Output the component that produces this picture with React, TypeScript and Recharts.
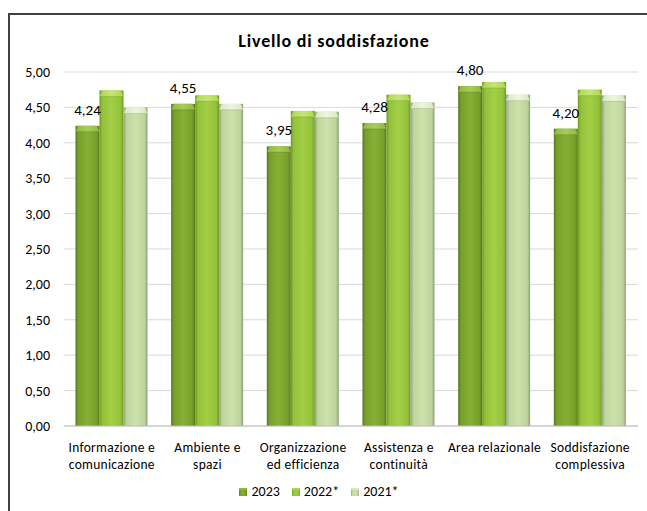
import React from 'react';
import { BarChart, Bar, XAxis, YAxis, CartesianGrid, Legend, LabelList } from 'recharts';

// Categorie (righe dell'etichetta sull'asse X)
const categoryLines: string[][] = [
  ['Informazione e', 'comunicazione'],
  ['Ambiente e', 'spazi'],
  ['Organizzazione', 'ed efficienza'],
  ['Assistenza e', 'continuità'],
  ['Area relazionale'],
  ['Soddisfazione', 'complessiva'],
];
const categories = categoryLines.map((l) => l.join(' '));

const values2023 = [4.24, 4.55, 3.95, 4.28, 4.8, 4.2];
const values2022 = [4.74, 4.67, 4.45, 4.68, 4.86, 4.75];
const values2021 = [4.5, 4.55, 4.44, 4.57, 4.68, 4.67];

const yTicks = [0, 0.5, 1, 1.5, 2, 2.5, 3, 3.5, 4, 4.5, 5];

const seriesNames = ['2023', '2022*', '2021*'];

const data = categories.map((name, i) => ({
  name,
  '2023': values2023[i],
  '2022*': values2022[i],
  '2021*': values2021[i],
}));

const FONT = 'Carlito, Lato, sans-serif';

const palette: Record<string, { edge: string; body: string; light: string; cap: string; capLight: string }> = {
  '2023': { edge: '#58771c', body: '#779f2c', light: '#86b034', cap: '#8fb840', capLight: '#a8cc5a' },
  '2022*': { edge: '#6f9a22', body: '#93c13a', light: '#a2cf45', cap: '#acd652', capLight: '#c6e478' },
  '2021*': { edge: '#8e9e7c', body: '#bdd599', light: '#cde1ad', cap: '#d8e8bf', capLight: '#eef5e2' },
};

const gid = (k: string) => 'g' + k.replace('*', 's');

const fmt = (v: number) => v.toFixed(2).replace('.', ',');

// Barra con effetto smussato: corpo sfumato e tappo superiore più chiaro
const BevelBar = (props: any) => {
  const { x, y, width, height, dataKey } = props;
  if (!height || height <= 0) return null;
  const id = gid(String(dataKey));
  const cap = Math.min(6, height);
  const inset = 3;
  return (
    <g>
      <rect x={x} y={y} width={width} height={height} fill={`url(#${id}-body)`} />
      <polygon
        points={`${x},${y + cap} ${x + inset},${y} ${x + width - inset},${y} ${x + width},${y + cap}`}
        fill={`url(#${id}-cap)`}
      />
      <line x1={x} y1={y + cap} x2={x + width} y2={y + cap} stroke={palette[dataKey].edge} strokeOpacity={0.35} />
    </g>
  );
};

const CategoryTick = (props: any) => {
  const { x, y, index } = props;
  const lines = categoryLines[index] ?? [];
  return (
    <text x={x} y={y} textAnchor="middle" fontFamily={FONT} fontSize={13.5} letterSpacing={0.3} fill="#000">
      {lines.map((l, i) => (
        <tspan key={i} x={x} dy={i === 0 ? 18 : 17}>
          {l}
        </tspan>
      ))}
    </text>
  );
};

const LegendContent = () => (
  <div style={{ display: 'flex', justifyContent: 'center', gap: 12, fontFamily: FONT, fontSize: 14, color: '#000' }}>
    {seriesNames.map((s) => (
      <span key={s} style={{ display: 'flex', alignItems: 'center', gap: 4 }}>
        <svg width={8} height={8}>
          <rect width={8} height={8} fill={`url(#${gid(s)}-body)`} />
          <rect width={8} height={2} fill={palette[s].cap} />
        </svg>
        {s}
      </span>
    ))}
  </div>
);

export default function App() {
  return (
    <div style={{ position: 'fixed', left: 0, top: 0, width: 647, height: 511, background: '#fff' }}>
      <div
        style={{
          position: 'absolute',
          left: 8,
          top: 13,
          width: 639,
          height: 498,
          borderTop: '2px solid #404040',
          borderLeft: '2px solid #404040',
          boxSizing: 'border-box',
        }}
      />
      <div
        style={{
          position: 'absolute',
          left: 0,
          width: 668,
          top: 30,
          textAlign: 'center',
          fontFamily: FONT,
          fontWeight: 700,
          fontSize: 18,
          letterSpacing: 0.8,
          lineHeight: '22px',
          color: '#000',
        }}
      >
        Livello di soddisfazione
      </div>
      <BarChart
        width={647}
        height={511}
        data={data}
        margin={{ top: 72, right: 9, left: 0, bottom: 8 }}
        barCategoryGap="12%"
        barGap={0}
        style={{ position: 'absolute', left: 0, top: 0 }}
      >
        <defs>
          {seriesNames.map((s) => {
            const c = palette[s];
            return (
              <React.Fragment key={s}>
                <linearGradient id={`${gid(s)}-body`} x1="0" y1="0" x2="1" y2="0">
                  <stop offset="0%" stopColor={c.edge} />
                  <stop offset="12%" stopColor={c.body} />
                  <stop offset="50%" stopColor={c.light} />
                  <stop offset="88%" stopColor={c.body} />
                  <stop offset="100%" stopColor={c.edge} />
                </linearGradient>
                <linearGradient id={`${gid(s)}-cap`} x1="0" y1="0" x2="1" y2="0">
                  <stop offset="0%" stopColor={c.cap} />
                  <stop offset="50%" stopColor={c.capLight} />
                  <stop offset="100%" stopColor={c.cap} />
                </linearGradient>
              </React.Fragment>
            );
          })}
        </defs>
        <CartesianGrid vertical={false} stroke="#d9d9d9" />
        <XAxis
          dataKey="name"
          interval={0}
          height={57}
          tickLine={false}
          axisLine={{ stroke: '#bfbfbf' }}
          tick={<CategoryTick />}
        />
        <YAxis
          width={64}
          domain={[0, 5]}
          ticks={yTicks}
          axisLine={false}
          tickLine={false}
          tickSize={6}
          tickMargin={8}
          tickFormatter={fmt}
          tick={{ fontFamily: FONT, fontSize: 14, fill: '#000' }}
        />
        <Legend verticalAlign="bottom" height={20} content={<LegendContent />} />
        {seriesNames.map((s) => (
          <Bar key={s} dataKey={s} shape={<BevelBar />} isAnimationActive={false}>
            {s === '2023' && (
              <LabelList
                dataKey={s}
                position="top"
                offset={11}
                formatter={(v: any) => fmt(Number(v))}
                style={{ fontFamily: FONT, fontSize: 15, fill: '#000' }}
              />
            )}
          </Bar>
        ))}
      </BarChart>
    </div>
  );
}
